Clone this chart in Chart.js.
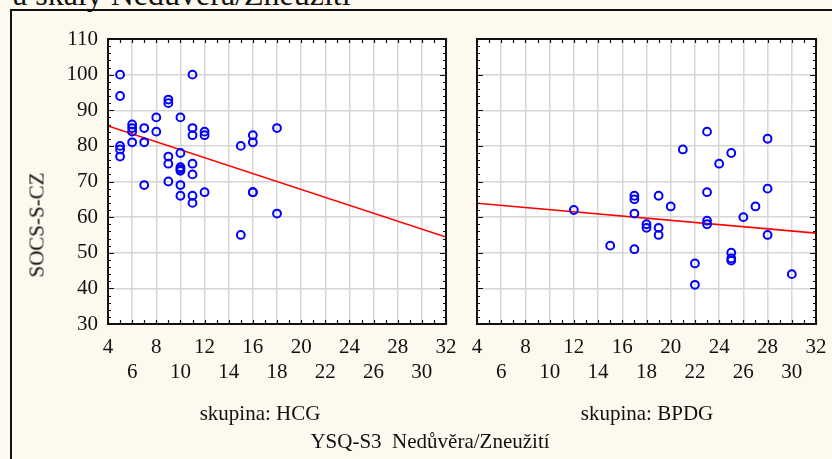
<!DOCTYPE html>
<html>
<head>
<meta charset="utf-8">
<script src="https://cdn.jsdelivr.net/npm/chart.js@4"></script>
<style>
  html, body { margin:0; padding:0; }
  body { width:832px; height:459px; overflow:hidden; position:relative; background:#fdf9ef; font-family:"Liberation Serif", "DejaVu Serif", serif; color:#111; }
  #frame { position:absolute; left:10px; top:9px; width:900px; height:600px; border:2px solid #111; box-sizing:border-box; }
  canvas { position:absolute; top:0; }
  .lbl { position:absolute; font-size:21px; white-space:pre; transform:translate(-50%,-50%); line-height:1; }
  #toptitle { position:absolute; left:13px; top:-22px; font-size:32px; line-height:32px; white-space:pre; }
  #ytitle { position:absolute; left:37px; top:225px; font-size:21px; white-space:pre; transform:translate(-50%,-50%) rotate(-90deg); line-height:1; }
</style>
</head>
<body>
<div id="toptitle">a škály Nedůvěra/Zneužití</div>
<div id="frame"></div>
<canvas id="c1" width="460" height="460" style="left:0px"></canvas>
<canvas id="c2" width="372" height="460" style="left:460px"></canvas>
<div id="ytitle">SOCS-S-CZ</div>
<div class="lbl" style="left:260px; top:413px;">skupina: HCG</div>
<div class="lbl" style="left:647px; top:413px;">skupina: BPDG</div>
<div class="lbl" style="left:430px; top:441px;">YSQ-S3  Nedůvěra/Zneužití</div>
<script>
// ---- data ----
const hcgX = [5,11,5,9,9,8,10,6,6,6,7,8,11,11,12,12,6,7,5,5,5,15,16,16,18,10,9,9,11,10,10,10,11,7,9,10,10,11,11,12,16,16,18,15];
const hcgY = [100,100,94,93,92,88,88,86,85,84,85,84,85,83,84,83,81,81,80,79,77,80,83,81,85,78,77,75,75,74,73.5,73,72,69,70,69,66,66,64,67,67,67,61,55];
const bpdgX = [23,28,21,25,24,28,23,17,17,19,20,27,12,17,26,18,18,19,19,23,23,28,15,17,25,25,25,22,22,30];
const bpdgY = [84,82,79,78,75,68,67,66,65,66,63,63,62,61,60,58,57,57,55,59,58,55,52,51,50,48.4,47.8,47,41,44];
const fitX = [4, 32];
const hcgFitY = [85.6, 54.4];
const bpdgFitY = [63.9, 55.5];
const xMin = 4, xMax = 32, xStep = 2;
const yMin = 30, yMax = 110, yStep = 10;

const FONT = { family: '"Liberation Serif", "DejaVu Serif", serif', size: 21 };

function pts(xs, ys) { return xs.map((x, i) => ({ x: x, y: ys[i] })); }

const decor = {
  id: 'decor',
  beforeDraw(chart) {
    const { ctx, chartArea: a } = chart;
    ctx.save();
    ctx.fillStyle = '#ffffff';
    ctx.fillRect(a.left, a.top, a.right - a.left, a.bottom - a.top);
    ctx.restore();
  },
  afterDraw(chart) {
    const { ctx, chartArea: a, scales } = chart;
    const xs = scales.x, ys = scales.y;
    ctx.save();
    ctx.strokeStyle = '#111';
    ctx.lineWidth = 1.2;
    ctx.beginPath();
    for (let v = xMin; v <= xMax; v += 1) {
      const p = Math.round(xs.getPixelForValue(v)) + 0.5;
      const len = 4;
      ctx.moveTo(p, a.bottom); ctx.lineTo(p, a.bottom - len);
      ctx.moveTo(p, a.top); ctx.lineTo(p, a.top + len);
    }
    for (let v = yMin; v <= yMax; v += 2) {
      const p = Math.round(ys.getPixelForValue(v)) + 0.5;
      const len = (v % 10 === 0) ? 6 : 3;
      ctx.moveTo(a.left, p); ctx.lineTo(a.left + len, p);
      ctx.moveTo(a.right, p); ctx.lineTo(a.right - len, p);
    }
    ctx.stroke();
    ctx.lineWidth = 2;
    ctx.strokeRect(a.left, a.top, a.right - a.left, a.bottom - a.top);
    ctx.restore();
  }
};

function makeChart(id, xs, ys, fitY, showY, pad, yWidth) {
  return new Chart(document.getElementById(id), {
    type: 'scatter',
    data: {
      datasets: [
        {
          data: pts(xs, ys),
          pointStyle: 'circle',
          pointRadius: 3.9,
          pointHoverRadius: 3.9,
          pointBorderWidth: 2,
          borderColor: '#0000ff',
          backgroundColor: 'rgba(0,0,0,0)',
          showLine: false
        },
        {
          type: 'line',
          data: pts(fitX, fitY),
          borderColor: '#ff0000',
          borderWidth: 1.6,
          pointRadius: 0,
          fill: false
        }
      ]
    },
    options: {
      responsive: false,
      animation: false,
      devicePixelRatio: 1,
      layout: { padding: pad },
      plugins: { legend: { display: false }, tooltip: { enabled: false } },
      scales: {
        x: {
          type: 'linear',
          min: xMin, max: xMax,
          afterFit(s) { s.height = 136; s.paddingLeft = 0; s.paddingRight = 0; },
          border: { display: false },
          grid: { color: '#d6d6d6', lineWidth: 1.5, drawTicks: false },
          ticks: {
            stepSize: xStep,
            padding: 11,
            color: '#111',
            font: FONT,
            maxRotation: 0,
            autoSkip: false,
            callback: (v) => (v % 4 === 0 ? String(v) : ['', String(v)])
          }
        },
        y: {
          type: 'linear',
          min: yMin, max: yMax,
          afterFit(s) { s.width = yWidth; s.paddingTop = 0; s.paddingBottom = 0; },
          border: { display: false },
          grid: { color: '#d6d6d6', lineWidth: 1.5, drawTicks: false },
          ticks: {
            display: showY,
            stepSize: yStep,
            padding: 10,
            color: '#111',
            font: FONT
          }
        }
      }
    },
    plugins: [decor]
  });
}

makeChart('c1', hcgX, hcgY, hcgFitY, true, { left: 0, right: 14, top: 39, bottom: 0 }, 108);
makeChart('c2', bpdgX, bpdgY, bpdgFitY, false, { left: 0, right: 16, top: 39, bottom: 0 }, 17);
</script>
</body>
</html>
